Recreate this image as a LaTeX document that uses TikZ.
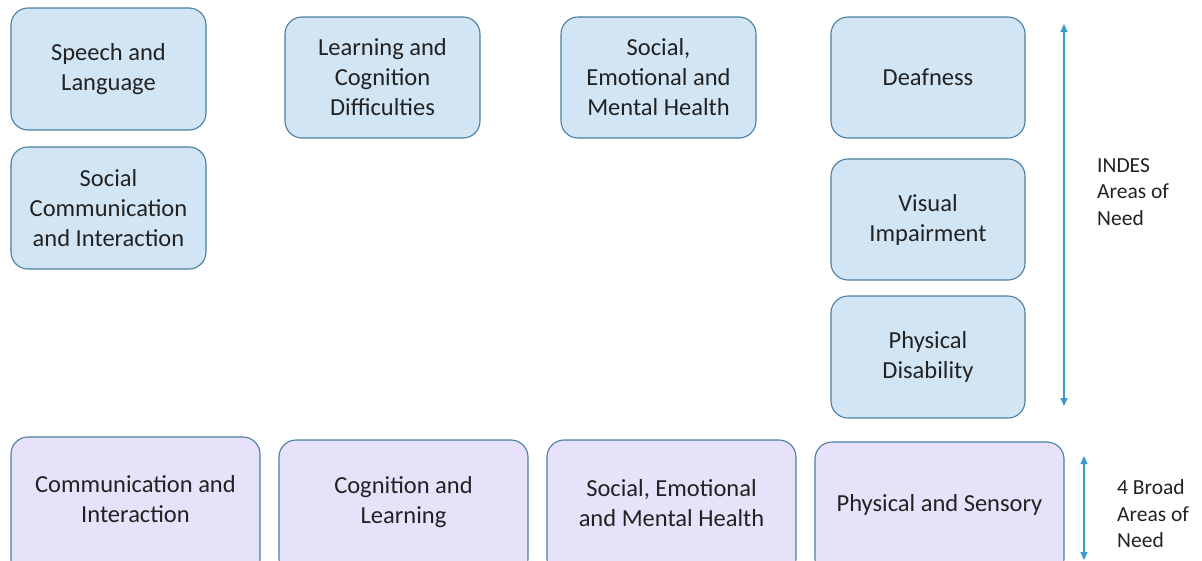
\documentclass[tikz,border=0pt]{standalone}
\usepackage{fontspec}
\setmainfont{Carlito}
\usetikzlibrary{arrows.meta}
\definecolor{bluefill}{HTML}{D2E5F4}
\definecolor{purplefill}{HTML}{E7E1F9}
\definecolor{boxline}{HTML}{4A7EA0}
\definecolor{arrowc}{HTML}{3A9ACB}
\definecolor{txt}{HTML}{222222}
\tikzset{
  box/.style={draw=boxline, line width=1.1pt, rounded corners=17pt, align=center,
    text=txt, font=\fontsize{24.5}{30}\selectfont, inner sep=0pt},
  bluebox/.style={box, fill=bluefill},
  purplebox/.style={box, fill=purplefill},
  btxt/.style={text=txt, align=center, font=\fontsize{24.5}{30}\selectfont, inner sep=0pt},
  lbl/.style={align=left, anchor=west, text=txt, font=\fontsize{21.5}{26.5}\selectfont, inner sep=0pt},
  darr/.style={draw=arrowc, line width=1.1pt, {Triangle[width=7pt,length=8pt]}-{Triangle[width=7pt,length=8pt]}}
}
\begin{document}
\begin{tikzpicture}[x=1pt,y=-1pt]
\useasboundingbox (0,0) rectangle (1202,560);
\begin{scope}
\clip (0,0) rectangle (1202,560);
% blue boxes
\node[bluebox, minimum width=195pt, minimum height=122pt] (sl) at (108.5,69) {Speech and\\Language};
\node[bluebox, minimum width=195pt, minimum height=122pt] (sci) at (108.5,208) {Social\\Communication\\and Interaction};
\node[bluebox, minimum width=195pt, minimum height=121pt] (lcd) at (382.5,77.5) {Learning and\\Cognition\\Difficulties};
\node[bluebox, minimum width=195pt, minimum height=121pt] (semh) at (658.5,77.5) {Social,\\Emotional and\\Mental Health};
\node[bluebox, minimum width=194pt, minimum height=121pt] (deaf) at (928,77.5) {Deafness};
\node[bluebox, minimum width=194pt, minimum height=121pt] (vi) at (928,219.5) {Visual\\Impairment};
\node[bluebox, minimum width=194pt, minimum height=122pt] (pd) at (928,357) {Physical\\Disability};
% purple boxes
\node[purplebox, minimum width=249pt, minimum height=140pt] (ci) at (135.5,507) {};
\node[purplebox, minimum width=249pt, minimum height=136pt] (cl) at (403.5,508) {};
\node[purplebox, minimum width=249pt, minimum height=136pt] (sem) at (671.5,508) {};
\node[purplebox, minimum width=249pt, minimum height=134pt] (ps) at (939.5,509) {};
\end{scope}
\node[btxt] (cit) at (135.5,499.5) {Communication and\\Interaction};
\node[btxt] (clt) at (403.5,502) {Cognition and\\Learning};
\node[btxt] (semt) at (671.5,503) {Social, Emotional\\and Mental Health};
\node[btxt] (pst) at (939.5,505) {Physical and Sensory};
% arrows
\coordinate (a1) at (1064,24);
\coordinate (a2) at (1064,406);
\draw[darr] (a1) -- (a2);
\coordinate (b1) at (1084,456);
\coordinate (b2) at (1084,560);
\draw[darr] (b1) -- (b2);
% labels
\node[lbl] (indes) at (1097,192) {INDES\\Areas of\\Need};
\node[lbl] (broad) at (1117,514) {4 Broad\\Areas of\\Need};
\end{tikzpicture}
\end{document}
